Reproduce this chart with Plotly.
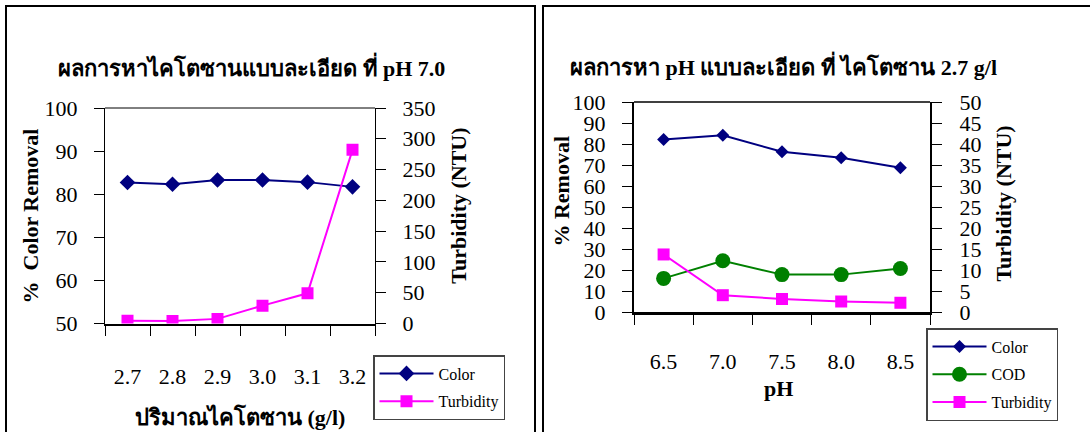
import plotly.graph_objects as go

# ---- data: chitosan dose series at pH 7.0 ----
chitosan = ["2.7", "2.8", "2.9", "3.0", "3.1", "3.2"]
color_dose = [82.7, 82.3, 83.3, 83.3, 82.8, 81.7]
turb_dose = [4.5, 4, 7.5, 29, 49, 282]

# ---- data: pH series at chitosan 2.7 g/l ----
ph = ["6.5", "7.0", "7.5", "8.0", "8.5"]
color_ph = [82.2, 84.2, 76.3, 73.5, 68.7]
cod_ph = [16, 24.4, 17.8, 17.8, 20.7]
turb_ph = [13.7, 4.0, 3.1, 2.5, 2.2]

W, H = 1090, 432
SERIF = "Liberation Serif, Times New Roman, serif"
NAVY, MAGENTA, GREEN = "#000080", "#FF00FF", "#008000"


def px(x):
    return x / W


def py(y):
    return 1 - y / H


fig = go.Figure()

# left panel traces
fig.add_trace(go.Scatter(x=chitosan, y=color_dose, name="Color", mode="lines+markers",
                         line=dict(color=NAVY, width=2),
                         marker=dict(symbol="diamond", size=12, color=NAVY),
                         xaxis="x", yaxis="y", legend="legend", legendgroup="a1"))
fig.add_trace(go.Scatter(x=chitosan, y=turb_dose, name="Turbidity", mode="lines+markers",
                         line=dict(color=MAGENTA, width=2),
                         marker=dict(symbol="square", size=12, color=MAGENTA),
                         xaxis="x", yaxis="y2", legend="legend", legendgroup="a2"))

# right panel traces
fig.add_trace(go.Scatter(x=ph, y=color_ph, name="Color", mode="lines+markers",
                         line=dict(color=NAVY, width=2),
                         marker=dict(symbol="diamond", size=10, color=NAVY),
                         xaxis="x2", yaxis="y4", legend="legend2", legendgroup="b1"))
fig.add_trace(go.Scatter(x=ph, y=cod_ph, name="COD", mode="lines+markers",
                         line=dict(color=GREEN, width=2),
                         marker=dict(symbol="circle", size=15, color=GREEN),
                         xaxis="x2", yaxis="y4", legend="legend2", legendgroup="b2"))
fig.add_trace(go.Scatter(x=ph, y=turb_ph, name="Turbidity", mode="lines+markers",
                         line=dict(color=MAGENTA, width=2),
                         marker=dict(symbol="square", size=12, color=MAGENTA),
                         xaxis="x2", yaxis="y5", legend="legend2", legendgroup="b3"))

tickfont = dict(family=SERIF, size=22, color="black")
common = dict(showgrid=False, zeroline=False, tickcolor="black", tickwidth=1,
              tickfont=tickfont, fixedrange=True, automargin=False)

left_dom_x = [px(105), px(375)]
left_dom_y = [py(323.5), py(108)]
right_dom_x = [px(634), px(930)]
right_dom_y = [py(312), py(102)]

legend_style = dict(xanchor="left", yanchor="top", bgcolor="white",
                    bordercolor="#444", borderwidth=1.5,
                    font=dict(family=SERIF, size=16, color="black"),
                    itemwidth=54, tracegroupgap=4, traceorder="grouped")

fig.update_layout(
    width=W, height=H,
    margin=dict(l=0, r=0, t=0, b=0, autoexpand=False),
    paper_bgcolor="white", plot_bgcolor="white",
    font=dict(family=SERIF, color="black"),
    # left panel axes
    xaxis=dict(domain=left_dom_x, anchor="y", type="category", range=[-0.5, 5.5],
               tickson="boundaries", ticks="outside", ticklen=10, ticklabelstandoff=32,
               showline=True, linecolor="black", linewidth=2, **common),
    yaxis=dict(domain=left_dom_y, anchor="x", range=[50, 100], dtick=10,
               ticks="outside", ticklen=10, ticklabelstandoff=12,
               showline=True, linecolor="black", linewidth=1, **common),
    yaxis2=dict(overlaying="y", anchor="x", side="right", range=[0, 350], dtick=50,
                ticks="outside", ticklen=10, ticklabelstandoff=12,
                showline=True, linecolor="black", linewidth=1, **common),
    yaxis3=dict(overlaying="y", anchor="x", side="right", range=[0, 350], dtick=50,
                ticks="inside", ticklen=10, showticklabels=False, showline=False, **common),
    # right panel axes
    xaxis2=dict(domain=right_dom_x, anchor="y4", type="category", range=[-0.5, 4.5],
                tickson="boundaries", ticks="outside", ticklen=10, ticklabelstandoff=28,
                showline=True, linecolor="black", linewidth=2.5, **common),
    yaxis4=dict(domain=right_dom_y, anchor="x2", range=[0, 100], dtick=10,
                ticks="outside", ticklen=10, ticklabelstandoff=12,
                showline=True, linecolor="black", linewidth=2, **common),
    yaxis5=dict(overlaying="y4", anchor="x2", side="right", range=[0, 50], dtick=5,
                ticks="outside", ticklen=10, ticklabelstandoff=13,
                showline=True, linecolor="black", linewidth=2, **common),
    yaxis6=dict(overlaying="y4", anchor="x2", side="right", range=[0, 50], dtick=5,
                ticks="inside", ticklen=10, showticklabels=False, showline=False, **common),
    legend=dict(x=px(373), y=py(355), **legend_style),
    legend2=dict(x=px(926), y=py(328), **legend_style),
    showlegend=True,
)

# plot-area top borders
fig.add_shape(type="line", xref="x domain", yref="y domain", x0=0, x1=1, y0=1, y1=1,
              line=dict(color="black", width=1))
fig.add_shape(type="line", xref="x2 domain", yref="y4 domain", x0=0, x1=1, y0=1, y1=1,
              line=dict(color="black", width=1.5))

# panel frames
fig.add_shape(type="rect", xref="paper", yref="paper", x0=px(6), x1=px(535),
              y0=py(445), y1=py(6), line=dict(color="black", width=2), layer="below")
fig.add_shape(type="rect", xref="paper", yref="paper", x0=px(543), x1=px(1100),
              y0=py(445), y1=py(6), line=dict(color="black", width=2), layer="below")

bold = dict(family=SERIF, color="black")


def label(text, x, y, size, angle=0):
    fig.add_annotation(text=f"<b>{text}</b>", x=px(x), y=py(y), xref="paper", yref="paper",
                       showarrow=False, xanchor="center", yanchor="middle",
                       textangle=angle, font=dict(size=size, **bold))


# left panel texts
label("ผลการหาไคโตซานแบบละเอียด ที่ pH 7.0", 251, 67, 22)
label("%  Color Removal", 29.5, 216, 22, -90)
label("Turbidity (NTU)", 457.7, 206, 22, -90)
label("ปริมาณไคโตซาน (g/l)", 240, 417, 22)

# right panel texts
label("ผลการหา pH แบบละเอียด ที่ ไคโตซาน 2.7 g/l", 783, 65, 22)
label("% Removal", 560.6, 191, 22, -90)
label("Turbidity (NTU)", 1002.6, 204, 22, -90)
label("pH", 778, 388, 22)

fig.write_html("out.html")
